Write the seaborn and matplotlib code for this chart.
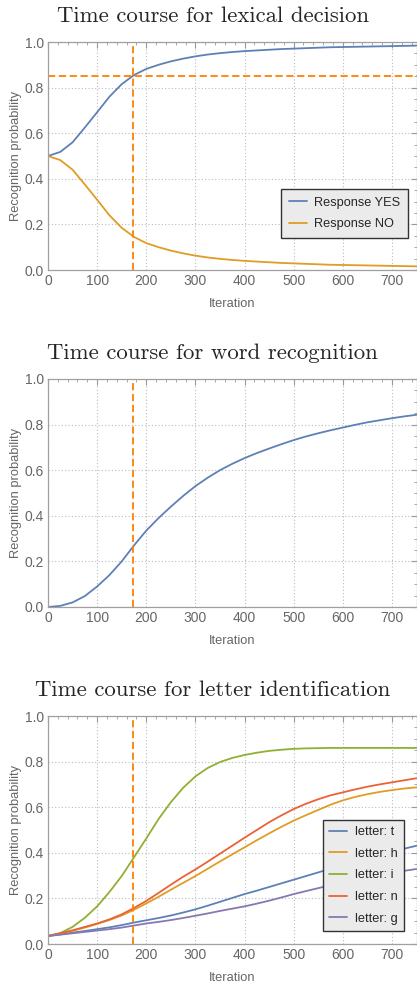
import numpy as np
import pandas as pd
import matplotlib
matplotlib.use("Agg")
import matplotlib.pyplot as plt
from matplotlib.ticker import MultipleLocator
import seaborn as sns

iters = list(range(0, 751, 25))

# lexical decision
resp_yes = [0.500, 0.518, 0.560, 0.625, 0.692, 0.760, 0.815, 0.855, 0.882, 0.900, 0.915,
            0.927, 0.937, 0.945, 0.951, 0.956, 0.960, 0.963, 0.966, 0.969, 0.971, 0.973,
            0.975, 0.977, 0.978, 0.979, 0.980, 0.981, 0.982, 0.983, 0.984]
resp_no = [0.500, 0.482, 0.440, 0.375, 0.308, 0.240, 0.185, 0.145, 0.118, 0.100, 0.085,
           0.073, 0.063, 0.055, 0.049, 0.044, 0.040, 0.037, 0.034, 0.031, 0.029, 0.027,
           0.025, 0.023, 0.022, 0.021, 0.020, 0.019, 0.018, 0.017, 0.016]

# word recognition
word = [0.000, 0.005, 0.020, 0.048, 0.090, 0.140, 0.200, 0.270, 0.335, 0.390, 0.440,
        0.487, 0.530, 0.567, 0.600, 0.628, 0.653, 0.675, 0.695, 0.714, 0.732, 0.748,
        0.762, 0.775, 0.787, 0.799, 0.810, 0.819, 0.828, 0.836, 0.843]

# letter identification
letter_t = [0.035, 0.042, 0.050, 0.057, 0.065, 0.073, 0.083, 0.094, 0.104, 0.114, 0.125,
            0.138, 0.152, 0.168, 0.185, 0.202, 0.219, 0.234, 0.250, 0.266, 0.282, 0.298,
            0.314, 0.330, 0.345, 0.360, 0.375, 0.390, 0.405, 0.418, 0.431]
letter_h = [0.035, 0.046, 0.058, 0.072, 0.088, 0.105, 0.125, 0.150, 0.178, 0.207, 0.238,
            0.268, 0.298, 0.330, 0.362, 0.393, 0.424, 0.455, 0.485, 0.514, 0.541, 0.565,
            0.588, 0.611, 0.630, 0.645, 0.657, 0.667, 0.675, 0.682, 0.687]
letter_i = [0.035, 0.048, 0.075, 0.115, 0.165, 0.228, 0.298, 0.380, 0.463, 0.548, 0.622,
            0.685, 0.735, 0.772, 0.798, 0.816, 0.829, 0.839, 0.847, 0.852, 0.856, 0.858,
            0.859, 0.860, 0.860, 0.860, 0.860, 0.860, 0.860, 0.860, 0.860]
letter_n = [0.035, 0.047, 0.060, 0.075, 0.090, 0.108, 0.130, 0.158, 0.189, 0.224, 0.260,
            0.295, 0.327, 0.361, 0.396, 0.431, 0.466, 0.500, 0.534, 0.564, 0.592, 0.615,
            0.635, 0.652, 0.665, 0.678, 0.690, 0.700, 0.709, 0.718, 0.727]
letter_g = [0.035, 0.041, 0.047, 0.053, 0.059, 0.065, 0.072, 0.081, 0.090, 0.097, 0.105,
            0.114, 0.124, 0.134, 0.145, 0.155, 0.165, 0.177, 0.190, 0.204, 0.219, 0.232,
            0.245, 0.258, 0.270, 0.281, 0.292, 0.302, 0.312, 0.321, 0.329]

threshold_iter = 172
threshold_prob = 0.85

blue, orange, green, red, purple = "#5E81B5", "#E19C24", "#8FB032", "#EB6235", "#8778B3"
marker_orange = "#FF8000"
gray = "#666666"

sns.set_style("white")
plt.rcParams["font.family"] = ["Liberation Sans", "DejaVu Sans"]

fig = plt.figure(figsize=(4.17, 9.82), dpi=100)
left, width, height = 48 / 417, 368.5 / 417, 228 / 982
bottoms = [1 - 270 / 982, 1 - 607 / 982, 1 - 944 / 982]
axes = [fig.add_axes([left, b, width, height]) for b in bottoms]


def style_axis(ax, title):
    ax.set_xlim(0, 750)
    ax.set_ylim(0, 1)
    ax.xaxis.set_major_locator(MultipleLocator(100))
    ax.xaxis.set_minor_locator(MultipleLocator(20))
    ax.yaxis.set_major_locator(MultipleLocator(0.2))
    ax.yaxis.set_minor_locator(MultipleLocator(0.05))
    ax.yaxis.set_major_formatter(plt.FuncFormatter(lambda v, p: f"{v:.1f}"))
    ax.tick_params(which="both", direction="in", top=True, right=True,
                   colors="#999999", labelcolor=gray, labelsize=10, pad=3)
    ax.tick_params(which="major", length=4, width=0.8)
    ax.tick_params(which="minor", length=2, width=0.6)
    for s in ax.spines.values():
        s.set_color("#A0A0A0")
        s.set_linewidth(0.9)
    ax.grid(True, which="major", linestyle=(0, (1, 2)), color="#BBBBBB", linewidth=0.8)
    ax.set_axisbelow(True)
    ax.set_xlabel("Iteration", color=gray, fontsize=9.3, labelpad=7)
    ax.set_ylabel("Recognition probability", color=gray, fontsize=9.3, labelpad=1.5)
    # the titles are centred on the whole panel, not on the plot frame
    ax.set_title(title, fontfamily="cmr10", fontsize=16.4, pad=14.5, x=0.447)


def style_legend(leg):
    frame = leg.get_frame()
    frame.set_facecolor("#EBEBEB")
    frame.set_edgecolor("#333333")
    frame.set_linewidth(1.0)
    frame.set_alpha(1)


# panel 1: lexical decision
ax = axes[0]
df1 = pd.DataFrame({"Iteration": iters * 2,
                    "p": resp_yes + resp_no,
                    "series": ["Response YES"] * len(iters) + ["Response NO"] * len(iters)})
sns.lineplot(data=df1, x="Iteration", y="p", hue="series", palette=[blue, orange],
             linewidth=1.3, ax=ax)
ax.axvline(threshold_iter, color=marker_orange, linestyle=(0, (4, 2)), linewidth=1.3)
ax.axhline(threshold_prob, color=marker_orange, linestyle=(0, (4, 2)), linewidth=1.3)
style_axis(ax, "Time course for lexical decision")
leg = ax.legend(loc="lower right", bbox_to_anchor=(0.977, 0.14), fontsize=9.2,
                fancybox=False, handlelength=1.4, handletextpad=0.6,
                borderpad=0.6, labelspacing=0.75, borderaxespad=0)
style_legend(leg)

# panel 2: word recognition
ax = axes[1]
df2 = pd.DataFrame({"Iteration": iters, "p": word})
sns.lineplot(data=df2, x="Iteration", y="p", color=blue, linewidth=1.3, ax=ax)
ax.axvline(threshold_iter, color=marker_orange, linestyle=(0, (4, 2)), linewidth=1.3)
style_axis(ax, "Time course for word recognition")

# panel 3: letter identification
ax = axes[2]
letters = {"letter: t": letter_t, "letter: h": letter_h, "letter: i": letter_i,
           "letter: n": letter_n, "letter: g": letter_g}
df3 = pd.DataFrame({"Iteration": iters * len(letters),
                    "p": sum(letters.values(), []),
                    "series": sum([[k] * len(iters) for k in letters], [])})
sns.lineplot(data=df3, x="Iteration", y="p", hue="series",
             palette=[blue, orange, green, red, purple], linewidth=1.3, ax=ax)
ax.axvline(threshold_iter, color=marker_orange, linestyle=(0, (4, 2)), linewidth=1.3)
style_axis(ax, "Time course for letter identification")
leg = ax.legend(loc="lower right", bbox_to_anchor=(0.966, 0.057), fontsize=9.2,
                fancybox=False, handlelength=1.4, handletextpad=0.6,
                borderpad=0.5, labelspacing=0.75, borderaxespad=0)
style_legend(leg)

fig.savefig("out.png", dpi=100)
